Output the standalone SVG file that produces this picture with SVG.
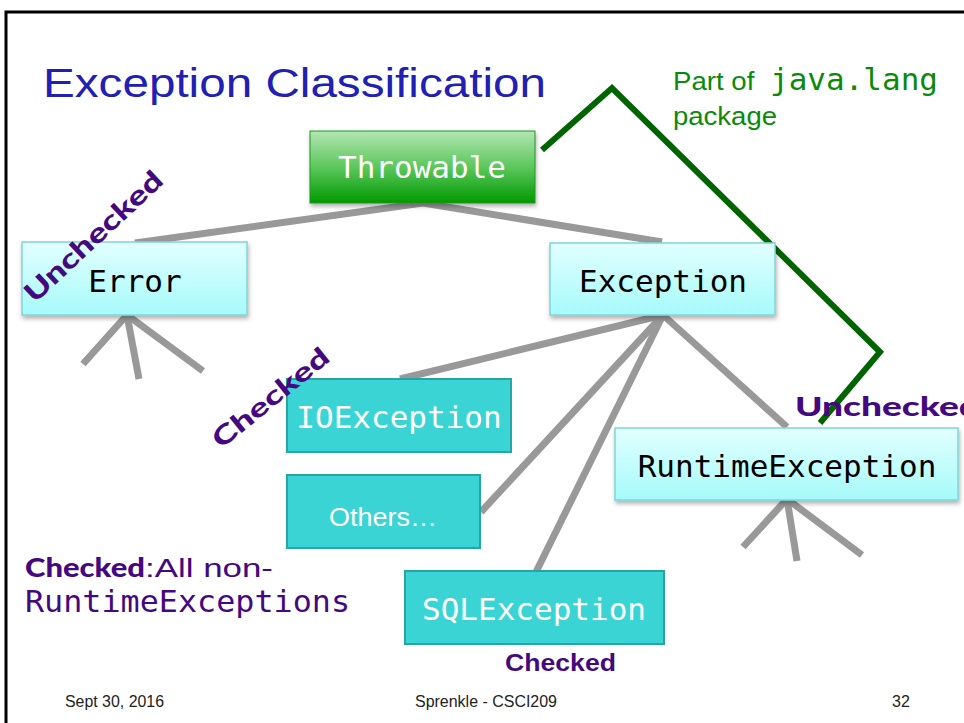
<svg xmlns="http://www.w3.org/2000/svg" width="964" height="723" viewBox="0 0 964 723">
<defs>
<linearGradient id="gGreen" x1="0" y1="0" x2="0" y2="1">
<stop offset="0" stop-color="#b3e5b3"/>
<stop offset="0.5" stop-color="#5cc75c"/>
<stop offset="1" stop-color="#009a00"/>
</linearGradient>
<linearGradient id="gCyan" x1="0" y1="0" x2="0" y2="1">
<stop offset="0" stop-color="#e2ffff"/>
<stop offset="1" stop-color="#a6fafa"/>
</linearGradient>
<filter id="sh" x="-10%" y="-10%" width="130%" height="140%">
<feDropShadow dx="1" dy="3" stdDeviation="2" flood-color="#000" flood-opacity="0.3"/>
</filter>
<style>
.mono{font-family:"DejaVu Sans Mono","Liberation Mono",monospace;font-size:31px;}
.sans{font-family:"Liberation Sans","Open Sans",sans-serif;}
.heavy{font-family:"Lato","Open Sans","Liberation Sans",sans-serif;font-weight:900;fill:#44087f;}
.conn{stroke:#999;stroke-width:7;fill:none;}
.light{fill:url(#gCyan);stroke:#7fd6d6;stroke-width:1.5;filter:url(#sh);}
.dark{fill:#3bd4d4;stroke:#26a5a5;stroke-width:2;}
.foot{font-family:"Liberation Sans",sans-serif;font-size:16px;fill:#222;}
</style>
</defs>
<rect width="964" height="723" fill="#fff"/>
<path d="M6 723 V12 H964" fill="none" stroke="#000" stroke-width="3"/>

<text class="sans" x="43" y="97" font-size="41" fill="#2020b4" textLength="503" lengthAdjust="spacingAndGlyphs">Exception Classification</text>
<text x="673" y="90" fill="#0a8a0a"><tspan class="sans" font-size="25" textLength="89" lengthAdjust="spacingAndGlyphs">Part of </tspan><tspan class="mono" x="770" font-size="31">java.lang</tspan></text>
<text class="sans" x="673" y="125" font-size="25" fill="#0a8a0a" textLength="104" lengthAdjust="spacingAndGlyphs">package</text>

<g id="connectors">
<polyline class="conn" points="135,243 423,203 662,242"/>
<polyline class="conn" points="83,364 127,315 203,371"/>
<line class="conn" x1="127" y1="315" x2="139" y2="379"/>
<line class="conn" x1="663" y1="315" x2="400" y2="379"/>
<line class="conn" x1="663" y1="315" x2="481" y2="512"/>
<line class="conn" x1="663" y1="315" x2="536" y2="572"/>
<line class="conn" x1="663" y1="315" x2="787" y2="427"/>
<polyline class="conn" points="743,547 787,499 862,555"/>
<line class="conn" x1="787" y1="499" x2="797" y2="561"/>
<polyline points="542,150 612,88 880,352 820,423" fill="none" stroke="#006400" stroke-width="6"/>
</g>

<g id="throwable">
<rect x="310" y="131" width="225" height="72" fill="url(#gGreen)" stroke="#1a9a1a" stroke-width="1" filter="url(#sh)"/>
<text class="mono" x="422" y="178" text-anchor="middle" fill="#fff">Throwable</text>
</g>
<g id="error">
<rect class="light" x="22" y="242" width="225" height="73"/>
<text class="mono" x="135" y="292" text-anchor="middle" fill="#000">Error</text>
</g>
<g id="exception">
<rect class="light" x="550" y="243" width="225" height="72"/>
<text class="mono" x="663" y="292" text-anchor="middle" fill="#000">Exception</text>
</g>
<g id="ioexception">
<rect class="dark" x="287" y="379" width="224" height="73"/>
<text class="mono" x="399" y="428" text-anchor="middle" fill="#fff">IOException</text>
</g>
<g id="others">
<rect class="dark" x="287" y="475" width="193" height="73"/>
<text class="sans" x="383" y="526" text-anchor="middle" font-size="26" fill="#fff" textLength="108" lengthAdjust="spacingAndGlyphs">Others…</text>
</g>
<g id="sqlexception">
<rect class="dark" x="405" y="571" width="259" height="73"/>
<text class="mono" x="534" y="620" text-anchor="middle" fill="#fff">SQLException</text>
</g>
<g id="runtimeexception">
<rect class="light" x="615" y="428" width="343" height="72"/>
<text class="mono" x="787" y="477" text-anchor="middle" fill="#000">RuntimeException</text>
</g>

<text class="heavy" transform="translate(93,236) rotate(-43)" x="0" y="10" text-anchor="middle" font-size="27" textLength="178" lengthAdjust="spacingAndGlyphs">Unchecked</text>
<text class="heavy" transform="translate(270,397) rotate(-39)" x="0" y="10" text-anchor="middle" font-size="26" textLength="142" lengthAdjust="spacingAndGlyphs">Checked</text>
<text class="heavy" x="795" y="416" font-size="26" textLength="185" lengthAdjust="spacingAndGlyphs">Unchecked</text>
<text class="sans" x="505" y="671" font-size="24" font-weight="bold" fill="#44087f" textLength="111" lengthAdjust="spacingAndGlyphs">Checked</text>

<text x="25" y="577" fill="#44087f"><tspan class="heavy" font-size="26" textLength="120" lengthAdjust="spacingAndGlyphs">Checked</tspan><tspan class="sans" font-size="26" textLength="128" lengthAdjust="spacingAndGlyphs">:All non-</tspan></text>
<text class="mono" x="25" y="612" fill="#44087f" textLength="325" lengthAdjust="spacingAndGlyphs">RuntimeExceptions</text>

<text class="foot" x="65" y="707" textLength="99" lengthAdjust="spacingAndGlyphs">Sept 30, 2016</text>
<text class="foot" x="415" y="707" textLength="142" lengthAdjust="spacingAndGlyphs">Sprenkle - CSCI209</text>
<text class="foot" x="892" y="707">32</text>
</svg>
